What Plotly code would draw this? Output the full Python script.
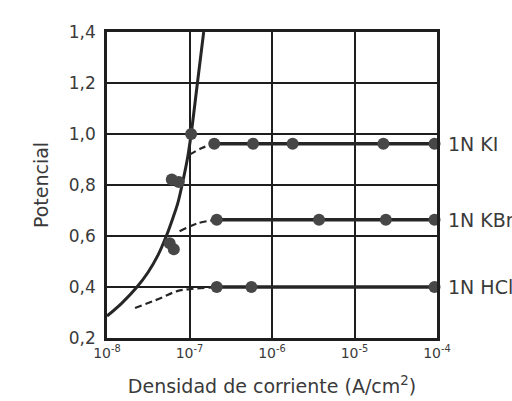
import plotly.graph_objects as go

# ---- data (x: current density A/cm2, y: potential) ----
tafel_x = [10**-8.0, 10**-7.823, 10**-7.642, 10**-7.502, 10**-7.382, 10**-7.281, 10**-7.201,
           10**-7.141, 10**-7.081, 10**-7.020, 10**-6.980, 10**-6.904, 10**-6.828]
tafel_y = [0.286, 0.336, 0.398, 0.458, 0.525, 0.600, 0.671, 0.730, 0.814, 0.913, 1.000, 1.200, 1.400]
tafel_pts_x = [10**-6.98, 10**-7.215, 10**-7.13, 10**-7.24, 10**-7.19]
tafel_pts_y = [1.00, 0.822, 0.812, 0.572, 0.548]

ki_x = [10**-6.70, 10**-6.23, 10**-5.75, 10**-4.65, 10**-4.03]
ki_y = [0.962, 0.962, 0.962, 0.962, 0.962]
ki_dash_x = [10**-7.00, 10**-6.85, 10**-6.70]
ki_dash_y = [0.919, 0.945, 0.962]

kbr_x = [10**-6.67, 10**-5.43, 10**-4.62, 10**-4.03]
kbr_y = [0.664, 0.664, 0.664, 0.664]
kbr_dash_x = [10**-7.12, 10**-6.90, 10**-6.67]
kbr_dash_y = [0.619, 0.650, 0.664]

hcl_x = [10**-6.67, 10**-6.25, 10**-4.03]
hcl_y = [0.40, 0.40, 0.40]
hcl_dash_x = [10**-7.66, 10**-7.36, 10**-7.15, 10**-6.99, 10**-6.67]
hcl_dash_y = [0.318, 0.355, 0.384, 0.392, 0.40]

series_labels = ["1N KI", "1N KBr", "1N HCl"]
series_label_y = [0.962, 0.664, 0.40]

x_tickvals = [1e-8, 1e-7, 1e-6, 1e-5, 1e-4]
x_ticktext = ["10<sup>-8</sup>", "10<sup>-7</sup>", "10<sup>-6</sup>", "10<sup>-5</sup>", "10<sup>-4</sup>"]
y_tickvals = [0.2, 0.4, 0.6, 0.8, 1.0, 1.2, 1.4]
y_ticktext = ["0,2", "0,4", "0,6", "0,8", "1,0", "1,2", "1,4"]

LINE = "#262626"
MARK = "#474747"
TXT = "#3a3a3a"
FONT = "DejaVu Sans"

fig = go.Figure()

# Tafel curve
fig.add_trace(go.Scatter(x=tafel_x, y=tafel_y, mode="lines",
                         line=dict(color=LINE, width=3, shape="spline", smoothing=1.0),
                         cliponaxis=True, showlegend=False))
fig.add_trace(go.Scatter(x=tafel_pts_x, y=tafel_pts_y, mode="markers",
                         marker=dict(color=MARK, size=12), cliponaxis=False, showlegend=False))

for dx, dy in [(ki_dash_x, ki_dash_y), (kbr_dash_x, kbr_dash_y), (hcl_dash_x, hcl_dash_y)]:
    fig.add_trace(go.Scatter(x=dx, y=dy, mode="lines",
                             line=dict(color=LINE, width=2.2, dash="7px,4px", shape="spline"),
                             showlegend=False))

for sx, sy in [(ki_x, ki_y), (kbr_x, kbr_y), (hcl_x, hcl_y)]:
    fig.add_trace(go.Scatter(x=sx, y=sy, mode="lines+markers",
                             line=dict(color=LINE, width=3.5),
                             marker=dict(color=MARK, size=12),
                             cliponaxis=False, showlegend=False))

for lab, ly in zip(series_labels, series_label_y):
    fig.add_annotation(x=1, xref="paper", y=ly, yref="y", text=lab, showarrow=False,
                       xanchor="left", xshift=9, font=dict(family=FONT, size=19, color=TXT))

fig.update_xaxes(type="log", range=[-8, -4], tickvals=x_tickvals, ticktext=x_ticktext,
                 showgrid=True, gridcolor="#1e1e1e", gridwidth=2,
                 showline=True, linecolor="#1e1e1e", linewidth=2.5, mirror=True,
                 ticks="", ticklabelstandoff=0,
                 tickfont=dict(family=FONT, size=14, color=TXT),
                 title=dict(text="Densidad de corriente (A/cm<sup>2</sup>)", standoff=21,
                            font=dict(family=FONT, size=19, color=TXT)),
                 zeroline=False)
fig.update_yaxes(range=[0.2, 1.4], tickvals=y_tickvals, ticktext=y_ticktext,
                 showgrid=True, gridcolor="#1e1e1e", gridwidth=2,
                 showline=True, linecolor="#1e1e1e", linewidth=2.5, mirror=True,
                 ticks="", ticklabelstandoff=5,
                 tickfont=dict(family=FONT, size=17, color=TXT),
                 title=dict(text="Potencial", standoff=16,
                            font=dict(family=FONT, size=19, color=TXT)),
                 zeroline=False)

fig.update_layout(width=512, height=401,
                  margin=dict(l=107, r=75, t=32, b=63, autoexpand=False),
                  paper_bgcolor="white", plot_bgcolor="white")

fig.write_html("out.html", config={"displayModeBar": False},
               post_script="document.body.style.margin='0px';")
